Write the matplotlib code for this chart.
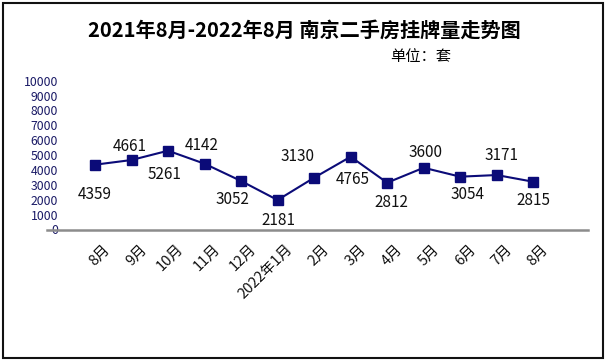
import matplotlib
matplotlib.use("Agg")
import matplotlib.pyplot as plt
import matplotlib.transforms as mtransforms
from matplotlib.patches import Rectangle

plt.rcParams['font.family'] = ['Noto Sans CJK SC', 'DejaVu Sans']

months = ["8月", "9月", "10月", "11月", "12月", "2022年1月", "2月", "3月",
          "4月", "5月", "6月", "7月", "8月"]
# marker heights as drawn in the picture
listings = [4355, 4670, 5295, 4420, 3260, 1980, 3480, 4890, 3145, 4150, 3550, 3660, 3210]
# numbers printed beside the markers
value_labels = ["4359", "4661", "5261", "4142", "3052", "2181", "3130", "4765",
                "2812", "3600", "3054", "3171", "2815"]
yticks = list(range(0, 10001, 1000))

# label offsets (pixels) relative to each marker
label_offsets = [(0, -30), (-2, 14), (-4, -24), (-3, 18), (-9, -19), (1, -20), (-17, 21),
                 (2, -23), (4, -20), (2, 15), (7, -18), (5, 20), (0, -19)]

W, H = 607, 364
fig = plt.figure(figsize=(W / 100, H / 100), dpi=100)
ax = fig.add_axes([47 / W, (H - 229.5) / H, 541 / W, (229.5 - 80.7) / H])

x = list(range(len(months)))
navy = "#0b0b78"
ax.plot(x, listings, color=navy, lw=1.5, marker="s", markersize=6.5,
        markerfacecolor=navy, markeredgecolor=navy, zorder=3)

for xi, yi, txt, (dx, dy) in zip(x, listings, value_labels, label_offsets):
    ax.annotate(txt, (xi, yi), xytext=(dx, dy), textcoords="offset pixels",
                ha="center", va="center", fontsize=11, color="#111111")

ax.set_xlim(-1.315, 13.5)
ax.set_ylim(0, 10000)
ax.set_yticks(yticks)
ax.set_yticklabels([str(v) for v in yticks], fontsize=8.8, color="#1a1a66")
ax.tick_params(axis="y", length=0, pad=-8)

ax.set_xticks(x)
ax.set_xticklabels(months, rotation=45, ha="right", rotation_mode="anchor",
                   fontsize=10.5, color="#111111")
ax.tick_params(axis="x", length=0, pad=9)
shift = mtransforms.ScaledTranslation(8 / 100, 0, fig.dpi_scale_trans)
for lbl in ax.get_xticklabels():
    lbl.set_transform(lbl.get_transform() + shift)

for s in ["top", "right", "left"]:
    ax.spines[s].set_visible(False)
ax.spines["bottom"].set_color("#8c8c8c")
ax.spines["bottom"].set_linewidth(1.8)
ax.patch.set_alpha(0)

fig.text(304 / W, 1 - 30 / H, "2021年8月-2022年8月 南京二手房挂牌量走势图",
         ha="center", va="center", fontsize=14.5, fontweight="bold")
fig.text(421 / W, 1 - 56 / H, "单位：套", ha="center", va="center", fontsize=11)

fig.patches.append(Rectangle((3 / W, 6 / H), 600 / W, 355 / H, transform=fig.transFigure,
                             fill=False, ec="#111111", lw=1.5))

fig.savefig("out.png", dpi=100)
